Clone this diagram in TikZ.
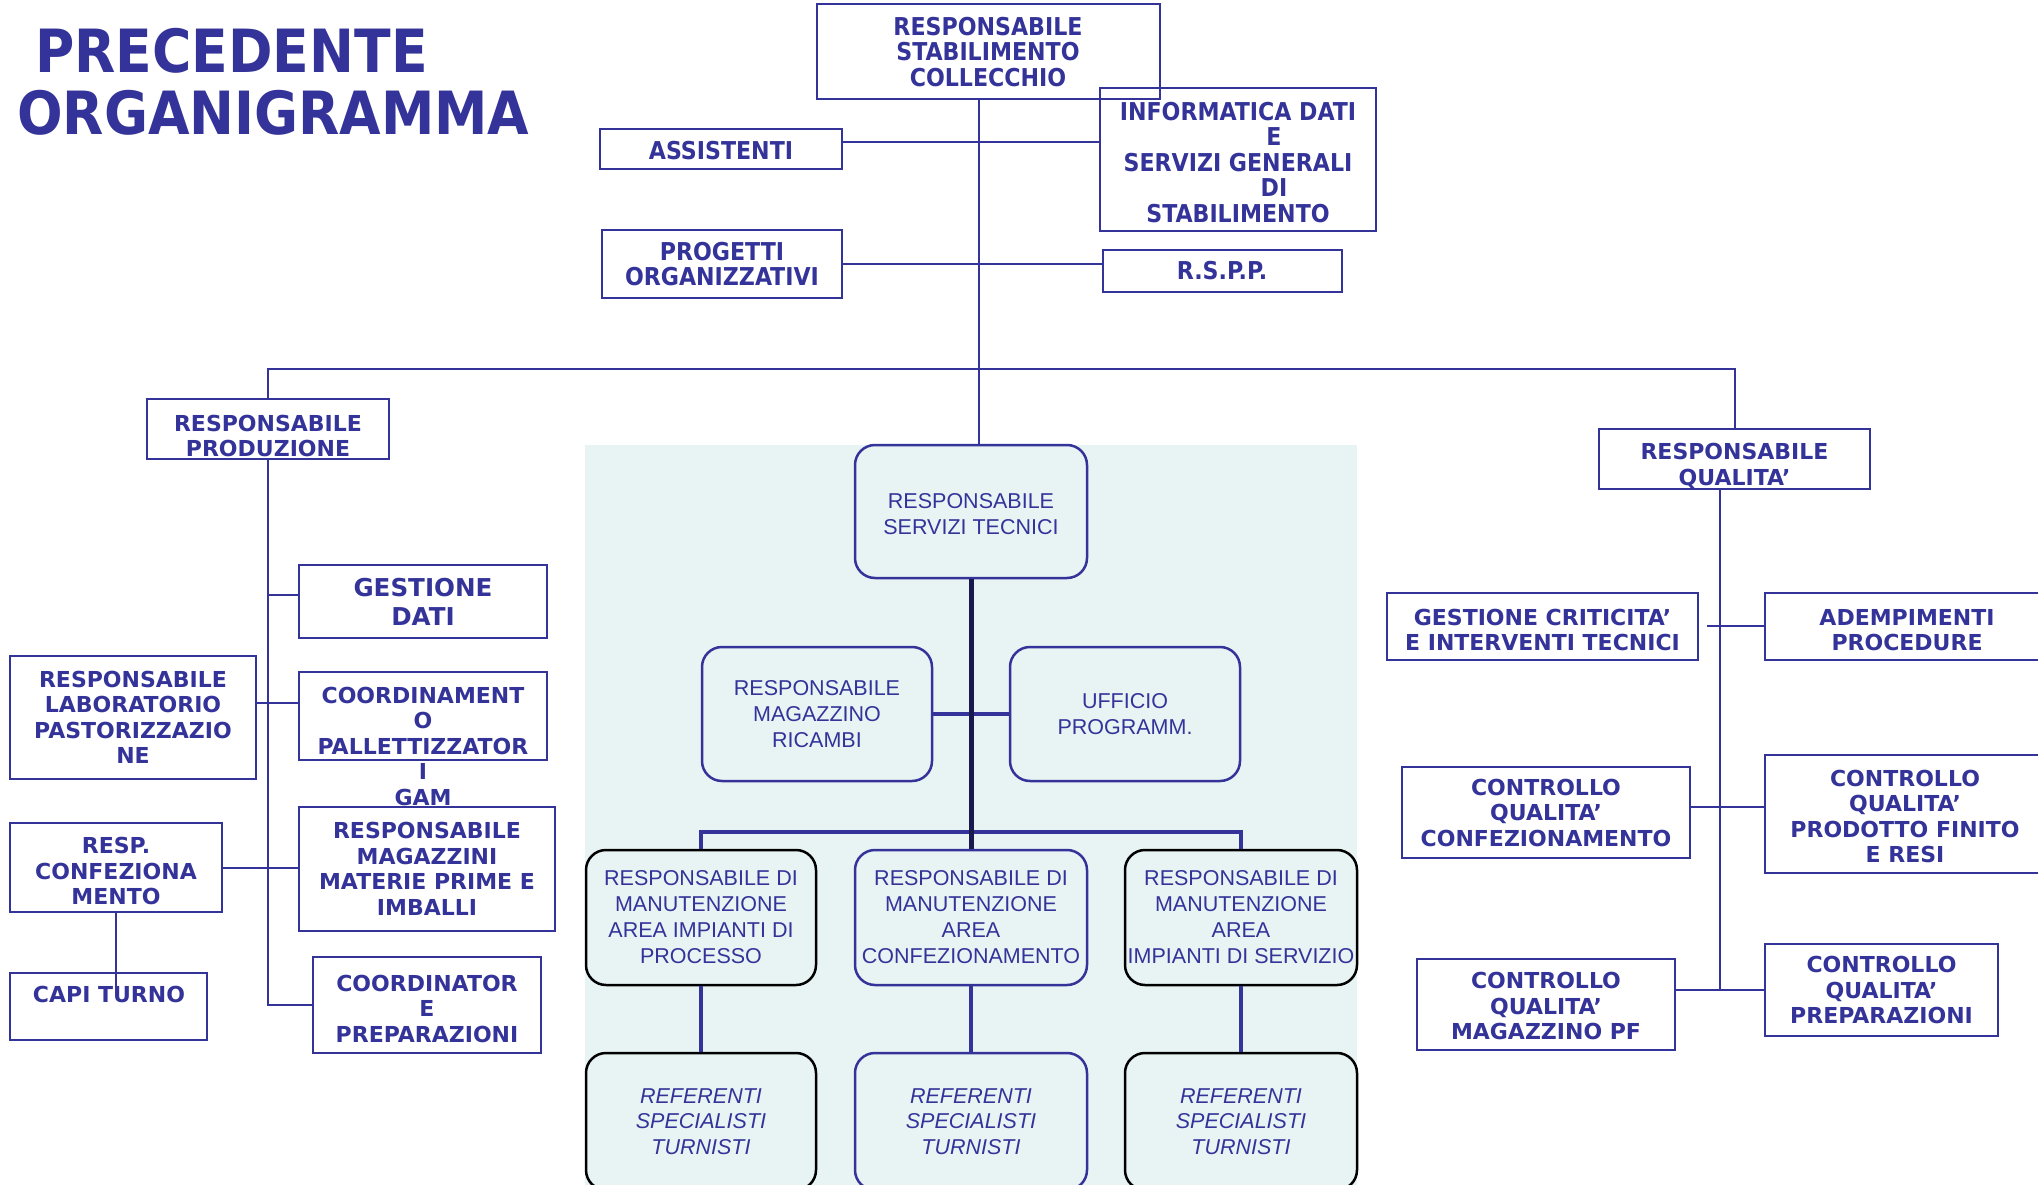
\documentclass[tikz,border=0pt]{standalone}
\usepackage{fontspec}
\setmainfont{Liberation Sans}
\newfontfamily\condfont{DejaVu Sans Condensed}
\newfontfamily\widefont{DejaVu Sans}
\usepackage{xcolor}
\usetikzlibrary{positioning}
\definecolor{orgblue}{RGB}{51,51,153}
\definecolor{techbg}{RGB}{232,244,244}
\definecolor{spinedark}{RGB}{25,25,80}

\begin{document}
\begin{tikzpicture}[x=1pt, y=-1pt,
  cbox/.style={draw=orgblue, line width=2pt, text=orgblue, align=center, inner sep=0pt,
    font=\condfont\bfseries\fontsize{24.6}{25.5}\selectfont},
  vbox/.style={draw=orgblue, line width=2pt, text=orgblue, align=center, inner sep=0pt,
    font=\widefont\bfseries\fontsize{22}{25.5}\selectfont},
  vtext/.style={text=orgblue, align=center, inner sep=0pt,
    font=\widefont\bfseries\fontsize{22}{25.5}\selectfont},
  tbox/.style={draw=orgblue, line width=2.5pt, rounded corners=20pt, fill=techbg, text=orgblue,
    align=center, inner sep=0pt, font=\fontsize{21.5}{26}\selectfont},
  kbox/.style={tbox, draw=black},
  link/.style={draw=orgblue, line width=2pt},
  tlink/.style={draw=orgblue, line width=3.5pt},
  spine/.style={draw=spinedark, line width=5pt}]
\useasboundingbox (0,0) rectangle (2038,1185);
\clip (0,0) rectangle (2038,1185);

\fill [techbg] (585,445) rectangle (1357,1185);

% titolo
\node [anchor=base west, inner sep=0pt, text=orgblue, font=\condfont\bfseries\fontsize{59.6}{60}\selectfont] (title1) at (35,73) {PRECEDENTE};
\node [anchor=base west, inner sep=0pt, text=orgblue, font=\condfont\bfseries\fontsize{59.6}{60}\selectfont] (title2) at (17,135) {ORGANIGRAMMA};

% direzione
\node [cbox, minimum width=343pt, minimum height=95pt] (stab) at (988,52) {RESPONSABILE\\STABILIMENTO\\COLLECCHIO};
\node [cbox, minimum width=276pt, minimum height=143pt] (info) at (1238,160) {\rule{0pt}{23pt}INFORMATICA DATI\\\hspace*{72pt}E\\SERVIZI GENERALI\\\hspace*{72pt}DI\\STABILIMENTO};
\node [cbox, minimum width=242pt, minimum height=40pt] (assist) at (721,149) {\rule{0pt}{22pt}ASSISTENTI};
\node [cbox, minimum width=240pt, minimum height=68pt] (prog) at (722,264) {PROGETTI\\ORGANIZZATIVI};
\node [cbox, minimum width=239pt, minimum height=42pt] (rspp) at (1222,271) {R.S.P.P.};

\draw [link] ([yshift=7pt]assist.east) -- ([yshift=7pt]assist.east -| info.west);
\draw [link] (prog.east) -- (prog.east -| rspp.west);

% produzione
\node [vbox, minimum width=242pt, minimum height=60pt] (prod) at (268,429) {\rule{0pt}{30pt}RESPONSABILE\\PRODUZIONE};
\node [vbox, minimum width=248pt, minimum height=73pt, font=\widefont\bfseries\fontsize{24.6}{29}\selectfont] (gdati) at (423,601.5) {GESTIONE\\DATI};
\node [vbox, minimum width=246pt, minimum height=123pt] (lab) at (133,717.5) {RESPONSABILE\\LABORATORIO\\PASTORIZZAZIO\\NE};
\node [vbox, minimum width=248pt, minimum height=88pt] (coordbox) at (423,716) {};
\node [vtext] (coordtxt) at (423,746) {COORDINAMENT\\O\\PALLETTIZZATOR\\I\\GAM};
\node [vbox, minimum width=212pt, minimum height=89pt] (conf) at (116,867.5) {\rule{0pt}{24pt}RESP.\\CONFEZIONA\\MENTO};
\node [vbox, minimum width=256pt, minimum height=124pt] (mag) at (427,869) {RESPONSABILE\\MAGAZZINI\\MATERIE PRIME E\\IMBALLI};
\node [vbox, minimum width=197pt, minimum height=67pt] (capi) at (108.5,1006.5) {};
\node [vtext] (capitxt) at (109,994) {CAPI TURNO};
\node [vbox, minimum width=228pt, minimum height=96pt] (coordprep) at (427,1005) {\rule{0pt}{24pt}COORDINATOR\\E\\PREPARAZIONI};

\draw [link] (prod.south) -- (prod.south |- coordprep.west) -- (coordprep.west);
\draw [link] ([yshift=7pt]gdati.west -| prod.south) -- ([yshift=7pt]gdati.west);
\draw [link] ([yshift=15pt]lab.east) -- ([yshift=15pt]lab.east -| coordbox.west);
\draw [link] (conf.east) -- (conf.east -| mag.west);
\coordinate (capiend) at ([yshift=-14pt]capi.north -| conf.south);
\draw [link] (conf.south) -- (capiend);

% qualita
\node [vbox, minimum width=271pt, minimum height=60pt] (qual) at (1734.5,459) {\rule{0pt}{30pt}RESPONSABILE\\QUALITA’};
\node [vbox, minimum width=311pt, minimum height=67pt] (gcrit) at (1542.5,626) {\rule{0pt}{24pt}GESTIONE CRITICITA’\\E INTERVENTI TECNICI};
\node [vbox, minimum width=284pt, minimum height=67pt] (ademp) at (1907,626) {\rule{0pt}{24pt}ADEMPIMENTI\\PROCEDURE};
\node [vbox, minimum width=288pt, minimum height=91pt] (cqc) at (1546,812.5) {CONTROLLO\\QUALITA’\\CONFEZIONAMENTO};
\node [vbox, minimum width=280pt, minimum height=118pt] (cqpf) at (1905,814) {\rule{0pt}{21pt}CONTROLLO\\QUALITA’\\PRODOTTO FINITO\\E RESI};
\node [vbox, minimum width=258pt, minimum height=91pt] (cqm) at (1546,1004.5) {\rule{0pt}{20pt}CONTROLLO\\QUALITA’\\MAGAZZINO PF};
\node [vbox, minimum width=233pt, minimum height=92pt] (cqprep) at (1881.5,990) {CONTROLLO\\QUALITA’\\PREPARAZIONI};

\draw [link] ([xshift=-15pt]qual.south) -- ([xshift=-15pt]qual.south |- cqprep.west);
\draw [link] ([xshift=8pt]gcrit.east) -- (ademp.west);
\draw [link] ([yshift=6pt]cqc.east) -- ([yshift=6pt]cqc.east -| cqpf.west);
\draw [link] (cqprep.west) -- (cqprep.west -| cqm.east);

% servizi tecnici
\node [tbox, minimum width=232pt, minimum height=133pt] (rst) at (971,511.5) {\rule{0pt}{20pt}RESPONSABILE\\SERVIZI TECNICI};
\node [tbox, minimum width=230pt, minimum height=134pt] (ric) at (817,714) {RESPONSABILE\\MAGAZZINO\\RICAMBI};
\node [tbox, minimum width=230pt, minimum height=134pt] (uff) at (1125,714) {UFFICIO\\PROGRAMM.};
\node [kbox, minimum width=230pt, minimum height=135pt] (man1) at (701,917.5) {RESPONSABILE DI\\MANUTENZIONE\\AREA IMPIANTI DI\\PROCESSO};
\node [tbox, minimum width=232pt, minimum height=135pt] (man2) at (971,917.5) {RESPONSABILE DI\\MANUTENZIONE\\AREA\\CONFEZIONAMENTO};
\node [kbox, minimum width=232pt, minimum height=135pt] (man3) at (1241,917.5) {RESPONSABILE DI\\MANUTENZIONE\\AREA\\IMPIANTI DI SERVIZIO};
\node [kbox, minimum width=230pt, minimum height=137pt, font=\itshape\fontsize{21.5}{25.5}\selectfont] (ref1) at (701,1121.5) {REFERENTI\\SPECIALISTI\\TURNISTI};
\node [tbox, minimum width=232pt, minimum height=137pt, font=\itshape\fontsize{21.5}{25.5}\selectfont] (ref2) at (971,1121.5) {REFERENTI\\SPECIALISTI\\TURNISTI};
\node [kbox, minimum width=232pt, minimum height=137pt, font=\itshape\fontsize{21.5}{25.5}\selectfont] (ref3) at (1241,1121.5) {REFERENTI\\SPECIALISTI\\TURNISTI};

\draw [link] ([xshift=-9pt]stab.south) -- ([xshift=-9pt]stab.south |- rst.north);
\coordinate (bar) at (979,369);
\draw [link] (prod.north) -- (prod.north |- bar) -- (qual.north |- bar) -- (qual.north);
\draw [tlink] (ric.east) -- (uff.west);
\draw [tlink] (man1.north) |- ([yshift=17pt]man2.north) -| (man3.north);
\draw [spine] (rst.south) -- (man2.north);
\draw [tlink] (man1.south) -- (ref1.north);
\draw [tlink] (man2.south) -- (ref2.north);
\draw [tlink] (man3.south) -- (ref3.north);
\end{tikzpicture}
\end{document}
